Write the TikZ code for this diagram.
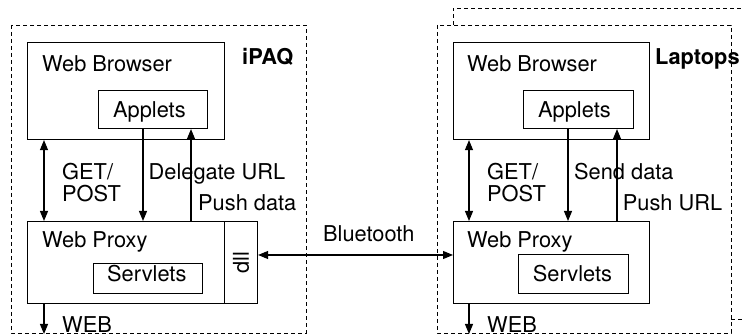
\documentclass[tikz,border=0pt]{standalone}
\usepackage{fontspec}
\setmainfont{TeX Gyre Heros}
\usetikzlibrary{arrows.meta,calc}
\tikzset{
  box/.style={draw, line width=1.1pt, inner sep=0pt, anchor=north west},
  grp/.style={draw, line width=0.9pt, dash pattern=on 4pt off 3pt},
  lbl/.style={anchor=base west, inner sep=0pt, font=\fontsize{21.8}{24}\selectfont},
  blbl/.style={lbl, font=\fontsize{21.8}{24}\selectfont\bfseries},
  arr/.style={line width=1.1pt, -{Triangle[length=10pt,width=8pt]}},
  darr/.style={line width=1.1pt, {Triangle[length=10pt,width=8pt]}-{Triangle[length=10pt,width=8pt]}}
}
\begin{document}
\begin{tikzpicture}[x=1pt,y=-1pt]
\clip (0,0) rectangle (742,336);
\fill[white] (0,0) rectangle (742,336);

% group outlines
\draw[grp] (11,25) rectangle (306,333);
\draw[grp] (437,25) rectangle (731,333);
\draw[grp] (453,25) -- (453,8) -- (760,8);
\draw[grp] (731,319) -- (760,319);

% left side (iPAQ)
\node[box, minimum width=197pt, minimum height=97pt] (wb1) at (27,42) {};
\node[box, minimum width=109pt, minimum height=38pt] (ap1) at (98,90) {};
\node[box, minimum width=197pt, minimum height=82pt] (wp1) at (27,221) {};
\node[box, minimum width=33pt, minimum height=82pt] (dl1) at (224,221) {};
\node[box, minimum width=109pt, minimum height=30pt] (sv1) at (93,263) {};

\node[lbl] (twb1) at (42,71.7) {Web Browser};
\node[lbl] (tap1) at (113,118) {Applets};
\node[blbl] (tipaq) at (242,65) {iPAQ};
\node[lbl] (tget1) at (62,180) {GET/};
\node[lbl] (tpost1) at (62,201.7) {POST};
\node[lbl] (tdel) at (148.5,180) {Delegate URL};
\node[lbl] (tpush1) at (198,210.7) {Push data};
\node[lbl] (twp1) at (42,248) {Web Proxy};
\node[lbl] (tsv1) at (107,281.7) {Servlets};
\node[lbl] (tweb1) at (62,332.5) {WEB};
\node[inner sep=0pt, rotate=90, font=\fontsize{21.8}{24}\selectfont] (tdll) at (dl1.center) {dll};

\coordinate (x1g) at (44,0);
\coordinate (x1d) at (143,0);
\coordinate (x1p) at (191,0);
\coordinate (web1e) at (44,334);
\draw[darr] (wb1.south -| x1g) -- (wp1.north -| x1g);
\draw[arr] (ap1.south -| x1d) -- (wp1.north -| x1d);
\draw[arr] (wp1.north -| x1p) -- (ap1.south -| x1p);
\draw[arr] (wp1.south -| x1g) -- (web1e);

% right side (Laptops)
\node[box, minimum width=196pt, minimum height=97pt] (wb2) at (453,42) {};
\node[box, minimum width=110pt, minimum height=38pt] (ap2) at (523,90) {};
\node[box, minimum width=196pt, minimum height=82pt] (wp2) at (453,221) {};
\node[box, minimum width=110pt, minimum height=39pt] (sv2) at (518,254) {};

\node[lbl] (twb2) at (467,71.7) {Web Browser};
\node[lbl] (tap2) at (538,118) {Applets};
\node[blbl] (tlap) at (655,65) {Laptops};
\node[lbl] (tget2) at (487,180) {GET/};
\node[lbl] (tpost2) at (487,201.7) {POST};
\node[lbl] (tsend) at (574,180) {Send data};
\node[lbl] (tpush2) at (622.7,210.7) {Push URL};
\node[lbl] (twp2) at (467,248) {Web Proxy};
\node[lbl] (tsv2) at (532.7,281.7) {Servlets};
\node[lbl] (tweb2) at (487,332.5) {WEB};

\coordinate (x2g) at (469,0);
\coordinate (x2s) at (568,0);
\coordinate (x2p) at (617,0);
\coordinate (web2e) at (469,334);
\draw[darr] (wb2.south -| x2g) -- (wp2.north -| x2g);
\draw[arr] (ap2.south -| x2s) -- (wp2.north -| x2s);
\draw[arr] (wp2.north -| x2p) -- (ap2.south -| x2p);
\draw[arr] (wp2.south -| x2g) -- (web2e);

% Bluetooth link
\coordinate (bty) at (0,255);
\draw[darr] (dl1.east |- bty) -- (wp2.west |- bty);
\node[lbl] (tbt) at (323,241.7) {Bluetooth};
\end{tikzpicture}
\end{document}
